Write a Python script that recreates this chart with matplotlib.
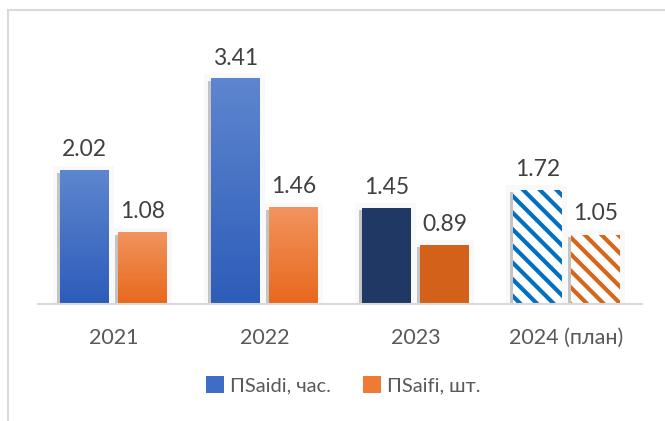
import numpy as np
import matplotlib
matplotlib.use("Agg")
import matplotlib.pyplot as plt
from matplotlib.patches import Patch, Rectangle
from matplotlib.lines import Line2D

plt.rcParams['font.family'] = ['Lato', 'DejaVu Sans']
plt.rcParams['hatch.linewidth'] = 3.0

years = ["2021", "2022", "2023", "2024 (план)"]
saidi = [2.02, 3.41, 1.45, 1.72]
saifi = [1.08, 1.46, 0.89, 1.05]
series_names = ["ПSaidi, час.", "ПSaifi, шт."]

# styles: 'grad' = gradient fill, 'solid', 'hatch'
styles = ["grad", "grad", "solid", "hatch"]
blue_grad = ("#5E86CF", "#2D5CB9")
orange_grad = ("#F1945E", "#E8681C")
solid_colors = ("#203864", "#D4611A")
hatch_colors = ("#0070C0", "#D8661A")

fig = plt.figure(figsize=(6.65, 4.21), dpi=100)
ax = fig.add_axes([38 / 665, 117 / 421, 604 / 665, 3.8 * 66 / 421])

x = np.arange(len(years))
w = 0.318
off = 0.192
px = 1 / 151  # one pixel in x data units
py = 1 / 66   # one pixel in y data units


def gradient_bar(xc, h, top, bottom):
    grad = np.linspace(0, 1, 100).reshape(-1, 1)
    c1 = np.array(matplotlib.colors.to_rgb(top))
    c2 = np.array(matplotlib.colors.to_rgb(bottom))
    img = c1 + (c2 - c1) * grad[..., None]
    img = img.reshape(100, 1, 3)
    ax.imshow(img, extent=(xc - w / 2, xc + w / 2, 0, h), origin="upper",
              aspect="auto", zorder=3, interpolation="bilinear")


def shadow(xc, h):
    ax.add_patch(Rectangle((xc - w / 2 - 7 * px, -2 * py), w + 12 * px, h + 7 * py,
                           facecolor="#F9F9F9", edgecolor="none", zorder=1))
    ax.add_patch(Rectangle((xc - w / 2 - 3 * px, -3 * py), w + 1 * px, h + 1 * py,
                           facecolor="#C4C4C4", edgecolor="none", zorder=2))


for i in range(len(years)):
    for j, (vals, sgn) in enumerate([(saidi, -1), (saifi, 1)]):
        xc = x[i] + sgn * off
        h = vals[i]
        shadow(xc, h)
        if styles[i] == "grad":
            g = blue_grad if j == 0 else orange_grad
            gradient_bar(xc, h, g[0], g[1])
        elif styles[i] == "solid":
            ax.bar(xc, h, w, color=solid_colors[j], zorder=3)
        else:
            ax.bar(xc, h, w, facecolor="white", edgecolor=hatch_colors[j],
                   linewidth=0, hatch="\\\\", zorder=3)
        ax.annotate(f"{h:.2f}", (xc, h), xytext=(0, 7.5), textcoords="offset points",
                    ha="center", va="bottom", fontsize=16.5, color="#404040", zorder=5)

ax.set_xlim(-0.5, 3.5)
ax.set_ylim(0, 3.8)
ax.set_xticks(x)
ax.set_xticklabels(years, fontsize=15.5, color="#595959")
ax.tick_params(axis="x", length=0, pad=17)
ax.set_yticks([])
for s in ["top", "right", "left"]:
    ax.spines[s].set_visible(False)
ax.spines["bottom"].set_color("#D9D9D9")
ax.spines["bottom"].set_linewidth(1.5)
ax.spines["bottom"].set_zorder(4)

handles = [Patch(facecolor="#3F6DC5", edgecolor="none"),
           Patch(facecolor="#EE7A33", edgecolor="none")]
fig.legend(handles, series_names, loc="center", bbox_to_anchor=(343 / 665, 1 - 385 / 421),
           ncol=2, frameon=False, fontsize=14.5, handlelength=0.9, handleheight=0.9,
           handletextpad=0.3, columnspacing=1.6, labelcolor="#595959")

# outer chart frame (cut off on the right and bottom)
fig.add_artist(Line2D([8 / 665, 8 / 665], [0, 1 - 10 / 421], transform=fig.transFigure,
                      color="#D9D9D9", linewidth=1.5))
fig.add_artist(Line2D([8 / 665, 1], [1 - 10 / 421, 1 - 10 / 421], transform=fig.transFigure,
                      color="#D9D9D9", linewidth=1.5))

fig.savefig("out.png", dpi=100)
